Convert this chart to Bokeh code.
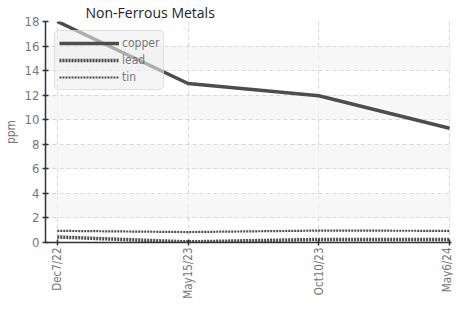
import math
from bokeh.plotting import figure
from bokeh.models import FixedTicker, Range1d, Legend, LegendItem
from bokeh.embed import file_html
from bokeh.resources import INLINE

dates = ["Dec7/22", "May15/23", "Oct10/23", "May6/24"]
copper = [18.0, 12.95, 11.95, 9.3]
lead = [0.45, 0.05, 0.25, 0.25]
tin = [0.95, 0.85, 0.97, 0.95]
y_ticks = [0, 2, 4, 6, 8, 10, 12, 14, 16, 18]

xs = list(range(len(dates)))
FONT = "DejaVu Sans Condensed"
GRAY = "#777777"

p = figure(width=453, height=301, output_backend="svg", toolbar_location=None,
           x_range=Range1d(-0.09, 3.015), y_range=Range1d(0, 18),
           min_border_left=34, min_border_right=2, min_border_bottom=0,
           min_border_top=0)
p.title.text = "Non-Ferrous Metals"
p.title.text_font = "Open Sans"
p.title.text_font_size = "14px"
p.title.text_font_style = "normal"
p.title.text_color = "#222222"
p.title.offset = 40
p.title.standoff = 0
p.outline_line_color = None

p.xaxis.ticker = FixedTicker(ticks=xs)
p.xaxis.major_label_overrides = {i: d for i, d in enumerate(dates)}
p.xaxis.major_label_orientation = math.pi / 2
p.yaxis.ticker = FixedTicker(ticks=y_ticks)
p.yaxis.axis_label = "ppm"

for ax in (p.xaxis, p.yaxis):
    ax.major_label_text_font = FONT
    ax.major_label_text_color = GRAY
    ax.axis_line_color = "#333333"
    ax.axis_line_width = 1.5
    ax.major_tick_line_color = "#333333"
    ax.major_tick_line_width = 1.5
    ax.major_tick_in = 3
    ax.major_tick_out = 3
    ax.minor_tick_line_color = None
p.yaxis.major_label_text_font_size = "13px"
p.yaxis.major_label_standoff = 3
p.xaxis.major_label_text_font_size = "11.5px"
p.xaxis.major_label_standoff = 2
p.yaxis.axis_label_text_font = FONT
p.yaxis.axis_label_text_font_size = "12px"
p.yaxis.axis_label_text_font_style = "normal"
p.yaxis.axis_label_text_color = GRAY
p.yaxis.axis_label_standoff = 4

for g in (p.xgrid, p.ygrid):
    g.grid_line_color = "#d8d8d8"
    g.grid_line_dash = "4 3"
    g.grid_line_width = 1
p.ygrid.band_fill_color = "#f3f3f3"
p.ygrid.band_fill_alpha = 0.7

c = p.line(xs, copper, line_color="#4d4d4d", line_width=3.5)
l = p.line(xs, lead, line_color="#4d4d4d", line_width=3.5, line_dash="2 1")
t = p.line(xs, tin, line_color="#4d4d4d", line_width=2.2, line_dash="2 1")

legend = Legend(items=[LegendItem(label="copper", renderers=[c]),
                       LegendItem(label="lead", renderers=[l]),
                       LegendItem(label="tin", renderers=[t])],
                location="top_left")
legend.margin = 9
legend.padding = 4
legend.spacing = 1
legend.glyph_width = 60
legend.glyph_height = 16
legend.label_height = 16
legend.label_standoff = 3
legend.label_text_font = FONT
legend.label_text_font_size = "12px"
legend.label_text_color = GRAY
legend.background_fill_color = "#eeeeee"
legend.background_fill_alpha = 0.6
legend.border_line_color = "#cccccc"
legend.border_radius = 5
p.add_layout(legend, "center")

open("out.html", "w").write(file_html(p, INLINE))
